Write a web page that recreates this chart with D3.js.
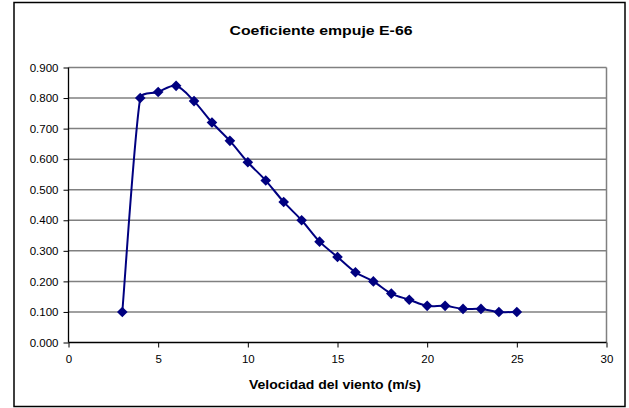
<!DOCTYPE html>
<html><head><meta charset="utf-8">
<script src="https://cdn.jsdelivr.net/npm/d3@7"></script>
<style>html,body{margin:0;padding:0;background:#fff}svg{display:block}</style>
</head><body>
<svg id="c" width="629" height="408"></svg>
<script>
const title = "Coeficiente empuje E-66";
const xTitle = "Velocidad del viento (m/s)";
const windSpeed = [3,4,5,6,7,8,9,10,11,12,13,14,15,16,17,18,19,20,21,22,23,24,25];
const thrustCoef = [0.10,0.80,0.82,0.84,0.79,0.72,0.66,0.59,0.53,0.46,0.40,0.33,0.28,0.23,0.20,0.16,0.14,0.12,0.12,0.11,0.11,0.10,0.10];
const xTicks = [0,5,10,15,20,25,30];
const yTicks = [0,0.1,0.2,0.3,0.4,0.5,0.6,0.7,0.8,0.9];

const font = "Arial, 'Liberation Sans', sans-serif";
const svg = d3.select("#c");
const L = 68.5, R = 606.5, T = 67.5, B = 342.5;
const x = d3.scaleLinear().domain([0,30]).range([L,R]);
const y = d3.scaleLinear().domain([0,0.9]).range([B,T]);

svg.append("rect").attr("x",14).attr("y",2.5).attr("width",611).attr("height",404)
  .attr("fill","#fff").attr("stroke","#000").attr("stroke-width",1.5);

svg.append("text").attr("x",321).attr("y",35).attr("text-anchor","middle")
  .attr("font-family",font).attr("font-weight","bold").attr("font-size",12.5)
  .attr("textLength",183).attr("lengthAdjust","spacingAndGlyphs").text(title);

// gridlines
svg.append("g").selectAll("line").data(yTicks.filter(d=>d>0)).join("line")
  .attr("x1",L).attr("x2",R).attr("y1",d=>y(d)).attr("y2",d=>y(d))
  .attr("stroke","#808080").attr("stroke-width",1.5);
svg.append("line").attr("x1",R).attr("x2",R).attr("y1",T).attr("y2",B)
  .attr("stroke","#808080").attr("stroke-width",1.5);

// axes
const yAxis = d3.axisLeft(y).tickValues(yTicks).tickFormat(d3.format(".3f")).tickSize(5).tickPadding(5);
const gy = svg.append("g").attr("transform",`translate(${L},0)`).call(yAxis);
const xAxis = d3.axisBottom(x).tickValues(xTicks).tickFormat(d3.format("d")).tickSize(5).tickPadding(7);
const gx = svg.append("g").attr("transform",`translate(0,${B})`).call(xAxis);
[gx,gy].forEach(g=>{
  g.select(".domain").attr("stroke","#000").attr("stroke-width",1.3);
  g.selectAll(".tick line").attr("stroke","#000");
  g.selectAll("text").attr("font-family",font).attr("font-size",11.5).attr("fill","#000");
});
gx.select(".domain").attr("d",`M${L},0H${R}`);
gy.select(".domain").attr("d",`M0,${B}V${T}`);

svg.append("text").attr("x",335).attr("y",389).attr("text-anchor","middle")
  .attr("font-family",font).attr("font-weight","bold").attr("font-size",12)
  .attr("textLength",172).attr("lengthAdjust","spacingAndGlyphs").text(xTitle);

const pts = windSpeed.map((v,i)=>[v,thrustCoef[i]]);

// Excel-style smoothed line: Catmull-Rom bezier with control arms capped to 1/3 of segment length
function smoothPath(data){
  const P = data.map(d=>[x(d[0]), y(d[1])]);
  const n = P.length;
  const Tg = P.map((p,i)=>{
    const a = P[Math.max(i-1,0)], b = P[Math.min(i+1,n-1)];
    return [(b[0]-a[0])/6, (b[1]-a[1])/6];
  });
  const cap = (v,len)=>{
    const l = Math.hypot(v[0],v[1]);
    const m = len/3;
    return l>m && l>0 ? [v[0]*m/l, v[1]*m/l] : v;
  };
  const p = d3.path();
  p.moveTo(P[0][0],P[0][1]);
  for(let i=0;i<n-1;i++){
    const len = Math.hypot(P[i+1][0]-P[i][0], P[i+1][1]-P[i][1]);
    const a = cap(Tg[i],len), b = cap(Tg[i+1],len);
    p.bezierCurveTo(P[i][0]+a[0],P[i][1]+a[1],P[i+1][0]-b[0],P[i+1][1]-b[1],P[i+1][0],P[i+1][1]);
  }
  return p.toString();
}
svg.append("path").attr("d",smoothPath(pts)).attr("fill","none")
  .attr("stroke","#000080").attr("stroke-width",2);
const sym = d3.symbol().type(d3.symbolDiamond2).size(72);
svg.append("g").selectAll("path").data(pts).join("path")
  .attr("transform",d=>`translate(${x(d[0])},${y(d[1])})`)
  .attr("d",sym).attr("fill","#000080");
</script>
</body></html>
